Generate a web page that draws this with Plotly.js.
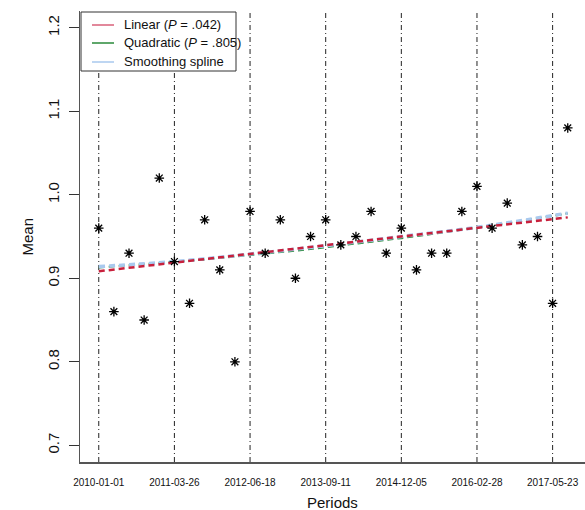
<!DOCTYPE html>
<html>
<head>
<meta charset="utf-8">
<script src="https://cdn.plot.ly/plotly-3.0.1.min.js"></script>
<style>html,body{margin:0;padding:0;background:#fff;}#chart{width:585px;height:510px;}</style>
</head>
<body>
<div id="chart"></div>
<script>
// Data
const periodIndex = [0,1,2,3,4,5,6,7,8,9,10,11,12,13,14,15,16,17,18,19,20,21,22,23,24,25,26,27,28,29,30,31];
const meanValues = [0.96,0.86,0.93,0.85,1.02,0.92,0.87,0.97,0.91,0.80,0.98,0.93,0.97,0.90,0.95,0.97,0.94,0.95,0.98,0.93,0.96,0.91,0.93,0.93,0.98,1.01,0.96,0.99,0.94,0.95,0.87,1.08];
const tickIndex = [0,5,10,15,20,25,30];
const tickLabels = ["2010-01-01","2011-03-26","2012-06-18","2013-09-11","2014-12-05","2016-02-28","2017-05-23"];
const splineIndex = [0,5,10,15,20,25,31];
const splineValues = [0.914,0.920,0.929,0.939,0.950,0.961,0.978];
const yTicks = [0.7,0.8,0.9,1.0,1.1,1.2];
const yTickLabels = ["0.7","0.8","0.9","1.0","1.1","1.2"];
const legendNames = ["Linear (<i>P</i> = .042)","Quadratic (<i>P</i> = .805)","Smoothing spline"];

// Least-squares fits computed from the data
function polyfit(xs, ys, deg){
  const n = deg+1;
  const A = Array.from({length:n},()=>Array(n+1).fill(0));
  for(let k=0;k<xs.length;k++){
    for(let i=0;i<n;i++){
      for(let j=0;j<n;j++) A[i][j]+=Math.pow(xs[k],i+j);
      A[i][n]+=ys[k]*Math.pow(xs[k],i);
    }
  }
  for(let i=0;i<n;i++){
    let p=i; for(let r=i+1;r<n;r++) if(Math.abs(A[r][i])>Math.abs(A[p][i])) p=r;
    [A[i],A[p]]=[A[p],A[i]];
    for(let r=0;r<n;r++){ if(r===i) continue; const f=A[r][i]/A[i][i]; for(let c=i;c<=n;c++) A[r][c]-=f*A[i][c]; }
  }
  return A.map((row,i)=>row[n]/row[i]);
}
const cLin = polyfit(periodIndex, meanValues, 1);
const cQuad = polyfit(periodIndex, meanValues, 2);
const linY = periodIndex.map(x=>cLin[0]+cLin[1]*x);
const quadY = periodIndex.map(x=>cQuad[0]+cQuad[1]*x+cQuad[2]*x*x);

const red = '#c8203c', green = '#2a8a3a', blue = '#a9c9ee';
const legendColors = ['#d9607a', green, blue];
const traces = [
  {x: periodIndex, y: quadY, mode:'lines', line:{color:green, width:2, dash:'6px,4px'}, hoverinfo:'skip'},
  {x: splineIndex, y: splineValues, mode:'lines', line:{color:blue, width:3.5, dash:'6px,4px', shape:'spline'}, hoverinfo:'skip'},
  {x: periodIndex, y: linY, mode:'lines', line:{color:red, width:2.5, dash:'6px,4px'}, hoverinfo:'skip'},
  {x: periodIndex, y: meanValues, mode:'markers', marker:{symbol:'asterisk-open', size:8, color:'#000', line:{color:'#000', width:1.3}}}
];

// plot area in pixels: left 80, top 11, width 505, height 451
const PW = 505, PH = 451;
const px = v => v/PW, py = v => 1 - v/PH;

const shapes = tickIndex.map(v=>({type:'line', xref:'x', yref:'paper', x0:v, x1:v, y0:0, y1:1, layer:'below', line:{color:'#222', width:1, dash:'5px,3px,1px,3px'}}));
// legend box
shapes.push({type:'rect', xref:'paper', yref:'paper', x0:px(1), x1:px(156), y0:py(1), y1:py(60), fillcolor:'#fff', line:{color:'#333', width:1}, layer:'above'});
const rowY = [14, 32, 51];
const annotations = [
  {text:'Mean', xref:'paper', yref:'paper', x:-53/PW, y:0.5, xanchor:'center', yanchor:'middle', textangle:-90, showarrow:false, font:{size:15, color:'#111'}},
  {text:'Periods', xref:'paper', yref:'paper', x:0.5, y:-41/PH, xanchor:'center', yanchor:'middle', showarrow:false, font:{size:15, color:'#111'}}
];
legendNames.forEach((name,i)=>{
  shapes.push({type:'line', xref:'paper', yref:'paper', x0:px(12), x1:px(34), y0:py(rowY[i]), y1:py(rowY[i]), line:{color:legendColors[i], width:1.5}, layer:'above'});
  annotations.push({text:name, xref:'paper', yref:'paper', x:px(42), y:py(rowY[i]), xanchor:'left', yanchor:'middle', showarrow:false, font:{size:13, color:'#111'}});
});

const layout = {
  width:585, height:510,
  margin:{l:80, r:0, t:11, b:48},
  paper_bgcolor:'#fff', plot_bgcolor:'#fff',
  font:{family:'"Liberation Sans", Arial, sans-serif', color:'#111'},
  showlegend:false,
  xaxis:{range:[-1.24, 32.14], showgrid:false, zeroline:false, showline:true, linecolor:'#555', linewidth:1.5, ticks:'', tickvals:tickIndex, ticktext:tickLabels, tickfont:{size:10, color:'#111'}, ticklabelstandoff:10, fixedrange:true},
  yaxis:{range:[0.68, 1.22], showgrid:false, zeroline:false, showline:true, linecolor:'#555', linewidth:1.5, ticks:'outside', ticklen:10, tickcolor:'#333', tickwidth:1, tickvals:yTicks, ticktext:yTickLabels, tickangle:-90, tickfont:{size:15, color:'#111'}, ticklabelstandoff:4, fixedrange:true},
  shapes: shapes,
  annotations: annotations
};
Plotly.newPlot('chart', traces, layout, {staticPlot:true, displayModeBar:false});
</script>
</body>
</html>
